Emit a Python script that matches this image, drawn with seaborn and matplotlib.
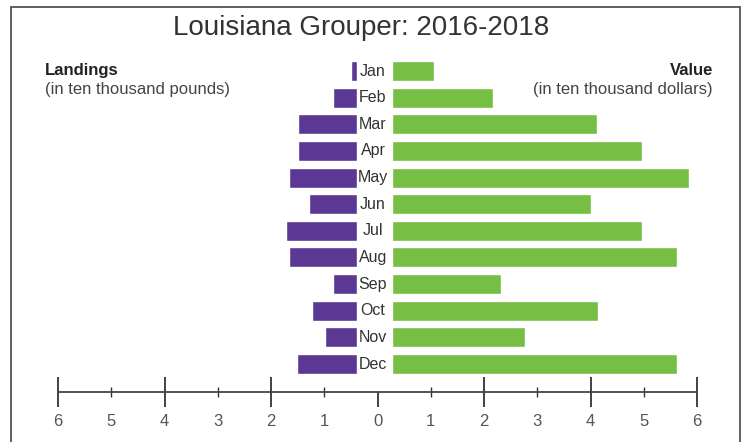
import pandas as pd
import matplotlib.pyplot as plt
import seaborn as sns
from matplotlib.lines import Line2D
from matplotlib.ticker import FixedLocator, FuncFormatter

# Datos (diez miles)
months = ['Jan', 'Feb', 'Mar', 'Apr', 'May', 'Jun', 'Jul', 'Aug', 'Sep', 'Oct', 'Nov', 'Dec']
landings = [0.50, 0.84, 1.49, 1.49, 1.66, 1.29, 1.72, 1.66, 0.84, 1.23, 0.99, 1.51]
value = [1.06, 2.17, 4.13, 4.96, 5.85, 4.01, 4.96, 5.63, 2.32, 4.14, 2.77, 5.63]

purple = '#5B3894'
green = '#76BE44'

if __name__ == '__main__':

    sns.set_theme(style='white')
    plt.rcParams['font.family'] = ['Liberation Sans', 'DejaVu Sans']

    df = pd.DataFrame({'Month': months, 'Landings': landings, 'Value': value})
    df['Left'] = -df['Landings']

    fig = plt.figure(figsize=(7.46, 4.42), dpi=100)
    W, H = 746, 442
    ax = fig.add_axes([58 / W, (H - 392) / H, 639 / W, (392 - 57.7) / H])

    sns.barplot(data=df, x='Left', y='Month', orient='h', color=purple,
                saturation=1, width=0.75, ax=ax)
    sns.barplot(data=df, x='Value', y='Month', orient='h', color=green,
                saturation=1, width=0.75, ax=ax)

    ax.set_xlim(-6, 6)
    ax.set_ylim(12.05, -0.5)

    # hueco central para los meses (por debajo del eje)
    ax.axvspan(-0.385, 0.272, color='white', zorder=1.5)
    for i, m in enumerate(months):
        ax.text(-0.085, i, m, ha='center', va='center', fontsize=11.5,
                color='#333333', zorder=6)

    # eje inferior simetrico
    for s in ['left', 'right', 'top']:
        ax.spines[s].set_visible(False)
    ax.spines['bottom'].set_color('#444444')
    ax.spines['bottom'].set_linewidth(1.3)
    ax.set_ylabel('')
    ax.set_xlabel('')
    ax.set_yticks([])
    ax.xaxis.set_major_locator(FixedLocator([-6, -4, -2, 0, 2, 4, 6]))
    ax.xaxis.set_minor_locator(FixedLocator([-5, -3, -1, 1, 3, 5]))
    fmt = FuncFormatter(lambda v, p: f'{abs(int(round(v)))}')
    ax.xaxis.set_major_formatter(fmt)
    ax.xaxis.set_minor_formatter(fmt)
    ax.tick_params(axis='x', which='major', direction='inout', length=21,
                   width=1.3, color='#333333', pad=5, labelsize=12,
                   labelcolor='#555555', bottom=True)
    ax.tick_params(axis='x', which='minor', direction='inout', length=7,
                   width=1.0, color='#333333', pad=12, labelsize=12,
                   labelcolor='#555555', bottom=True)

    # titulo y rotulos
    fig.text(361.5 / W, (H - 35) / H, 'Louisiana Grouper: 2016-2018', ha='center',
             va='baseline', fontsize=20, color='#333333')
    fig.text(45 / W, (H - 75) / H, 'Landings', ha='left', va='baseline',
             fontsize=12, fontweight='bold', color='#222222')
    fig.text(45 / W, (H - 94) / H, '(in ten thousand pounds)', ha='left',
             va='baseline', fontsize=12, color='#444444')
    fig.text(713 / W, (H - 75) / H, 'Value', ha='right', va='baseline',
             fontsize=12, fontweight='bold', color='#222222')
    fig.text(713 / W, (H - 94) / H, '(in ten thousand dollars)', ha='right',
             va='baseline', fontsize=12, color='#444444')

    # marco
    bc = '#555555'
    fig.add_artist(Line2D([11 / W, 11 / W], [0, (H - 7) / H], transform=fig.transFigure, color=bc, lw=1.3))
    fig.add_artist(Line2D([740 / W, 740 / W], [0, (H - 7) / H], transform=fig.transFigure, color=bc, lw=1.3))
    fig.add_artist(Line2D([11 / W, 740 / W], [(H - 7) / H, (H - 7) / H], transform=fig.transFigure, color=bc, lw=1.3))

    plt.savefig('out.png', dpi=100)
